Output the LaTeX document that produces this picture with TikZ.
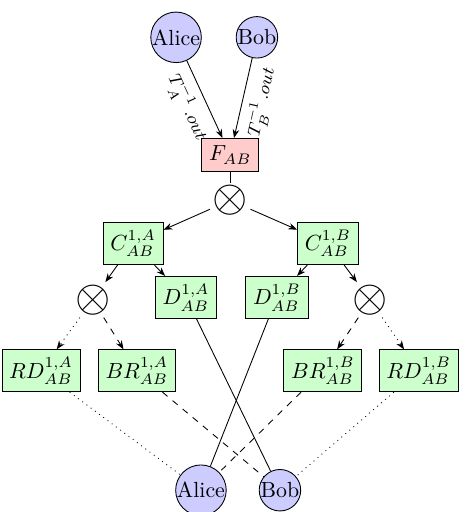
\documentclass[tikz,border=0pt]{standalone}
\usepackage{amsmath}
\usepackage{tikz}
\usetikzlibrary{arrows.meta, positioning}

\begin{document}
\begin{tikzpicture}[
        party/.style={circle, draw, fill=blue!20, inner sep=0pt},
        func/.style={rectangle, draw, fill=red!20},
        block/.style={rectangle, draw, fill=green!20},
        op/.style={font=\huge, inner sep=1pt},
        flow/.style={-{Stealth[length=4pt, width=3pt]}},
        lbl/.style={below, sloped, font=\footnotesize}
    ]
        \useasboundingbox (0,0) rectangle (7.49,8.23);

        % Nodes
        \node[party] (aliceT) at (2.83, 7.63) {Alice};
        \node[party] (bobT) at (4.13, 7.63) {Bob};
        \node[func] (fab) at (3.70, 5.74) {$F_{AB}$};
        \node[op] (otop) at (3.70, 5.01) {$\otimes$};

        \node[block] (cA) at (2.14, 4.32) {$C^{1,A}_{AB}$};
        \node[block] (cB) at (5.27, 4.32) {$C^{1,B}_{AB}$};
        \node[op] (oA) at (1.49, 3.41) {$\otimes$};
        \node[block] (dA) at (2.99, 3.45) {$D^{1,A}_{AB}$};
        \node[block] (dB) at (4.45, 3.45) {$D^{1,B}_{AB}$};
        \node[op] (oB) at (5.95, 3.41) {$\otimes$};

        \node[block] (rdA) at (0.66, 2.27) {$RD^{1,A}_{AB}$};
        \node[block] (brA) at (2.20, 2.27) {$BR^{1,A}_{AB}$};
        \node[block] (brB) at (5.19, 2.27) {$BR^{1,B}_{AB}$};
        \node[block] (rdB) at (6.73, 2.27) {$RD^{1,B}_{AB}$};

        \node[party] (aliceB) at (3.23, 0.35) {Alice};
        \node[party] (bobB) at (4.50, 0.35) {Bob};

        % Edges
        \draw[flow] (aliceT) -- node[lbl] {$T_A^{-1}\,.out$} (fab);
        \draw[flow] (bobT) -- node[lbl] {$T_B^{-1}\,.out$} (fab);
        \draw (fab) -- (otop);

        \draw[flow] (otop) -- (cA);
        \draw[flow] (otop) -- (cB);
        \draw[flow] (cA) -- (oA);
        \draw[flow] (cA) -- (dA);
        \draw[flow] (cB) -- (dB);
        \draw[flow] (cB) -- (oB);

        \draw[flow, dotted] (oA) -- (rdA);
        \draw[flow, dashed] (oA) -- (brA);
        \draw[flow, dashed] (oB) -- (brB);
        \draw[flow, dotted] (oB) -- (rdB);

        \draw[dotted] (rdA) -- (aliceB);
        \draw[dashed] (brA) -- (bobB);
        \draw (dA) -- (bobB);
        \draw (dB) -- (aliceB);
        \draw[dashed] (brB) -- (aliceB);
        \draw[dotted] (rdB) -- (bobB);

    \end{tikzpicture}
\end{document}
